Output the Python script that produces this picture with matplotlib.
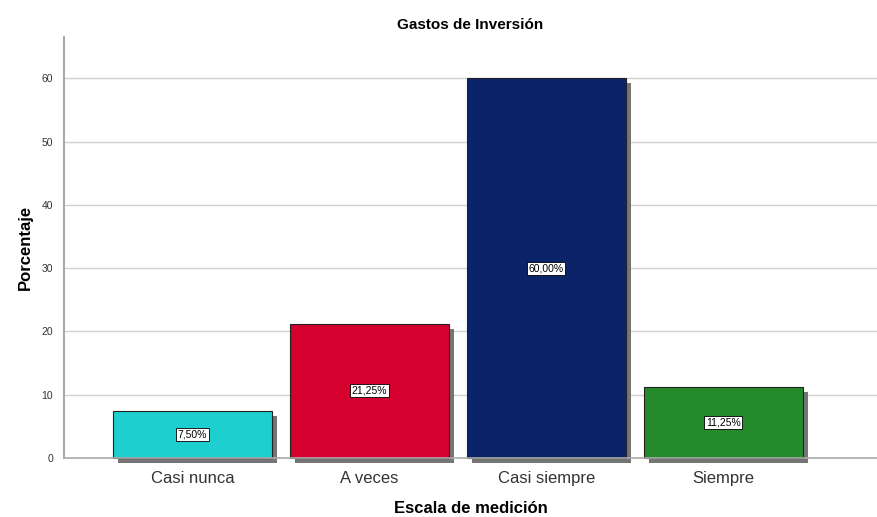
import matplotlib.pyplot as plt
import matplotlib.patheffects as pe

plt.rcParams['font.family'] = ['Liberation Sans', 'DejaVu Sans']

categorias = ['Casi nunca', 'A veces', 'Casi siempre', 'Siempre']
porcentajes = [7.50, 21.25, 60.00, 11.25]
etiquetas = ['7,50%', '21,25%', '60,00%', '11,25%']
colores = ['#1dcfcf', '#d5002e', '#0b2469', '#258a2b']

fig = plt.figure(figsize=(8.77, 5.17), dpi=100)
ax = fig.add_axes([0.073, 0.114, 0.927, 0.814])

x = range(len(categorias))
barras = ax.bar(x, porcentajes, width=0.9, color=colores, edgecolor='#222222',
                linewidth=0.8, zorder=3, clip_on=False)
for b in barras:
    b.set_path_effects([pe.SimplePatchShadow(offset=(3.6, -3.6), shadow_rgbFace='#6e6e6e', alpha=0.95),
                        pe.Normal()])

# etiquetas de valor en el centro de cada barra
for i, (v, t) in enumerate(zip(porcentajes, etiquetas)):
    ax.text(i, v / 2, t, ha='center', va='center', fontsize=7.5, zorder=5,
            bbox=dict(boxstyle='square,pad=0.15', fc='white', ec='black', lw=0.6))

ax.set_xlim(-0.726, 3.87)
ax.set_ylim(0, 66.5)
ax.set_yticks([0, 10, 20, 30, 40, 50, 60])
ax.set_xticks(list(x))
ax.set_xticklabels(categorias, fontsize=12, color='#333333')
ax.tick_params(axis='y', labelsize=7.5, length=0, pad=8, labelcolor='#333333')
ax.tick_params(axis='x', length=0, pad=9)
ax.grid(axis='y', color='#d0d0d0', linewidth=1, zorder=0)

for s in ['top', 'right']:
    ax.spines[s].set_visible(False)
ax.spines['left'].set_color('#aaaaaa')
ax.spines['left'].set_linewidth(1.5)
ax.spines['bottom'].set_color('#aaaaaa')
ax.spines['bottom'].set_linewidth(1.2)
ax.spines['bottom'].set_zorder(4)

ax.set_title('Gastos de Inversión', fontsize=11, fontweight='bold', pad=6)
ax.set_xlabel('Escala de medición', fontsize=12, fontweight='bold', labelpad=11)
ax.set_ylabel('Porcentaje', fontsize=12, fontweight='bold', labelpad=6)

plt.savefig('out.png', dpi=100)
